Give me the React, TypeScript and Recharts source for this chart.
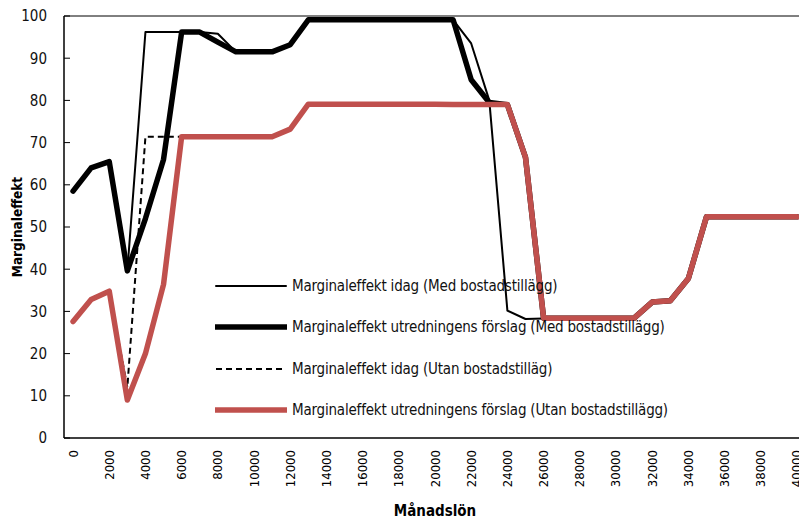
import { LineChart, Line, XAxis, YAxis, ReferenceLine, Legend, Label } from "recharts";

const FONT = "'DejaVu Sans Condensed', 'Liberation Sans Narrow', sans-serif";
const RED = "#c0504d";

const LON = [
  0, 1000, 2000, 3000, 4000, 5000, 6000, 7000, 8000, 9000, 10000, 11000, 12000, 13000,
  14000, 15000, 16000, 17000, 18000, 19000, 20000, 21000, 22000, 23000, 24000, 25000,
  26000, 27000, 28000, 29000, 30000, 31000, 32000, 33000, 34000, 35000, 36000, 37000,
  38000, 39000, 40000
];

// Marginaleffekt idag (Med bostadstillägg)
const IDAG_MED = [
  58.5, 64, 65.5, 39.6, 96.2, 96.2, 96.2, 96.2, 95.8, 91.5, 91.5, 91.5, 93.2, 99.1,
  99.1, 99.1, 99.1, 99.1, 99.1, 99.1, 99.1, 99.1, 93.5, 80, 30.2, 28.2,
  28.3, 28.4, 28.4, 28.4, 28.4, 28.4, 32.2, 32.5, 37.8, 52.4, 52.4, 52.4,
  52.4, 52.4, 52.4
];

// Marginaleffekt utredningens förslag (Med bostadstillägg)
const FORSLAG_MED = [
  58.5, 64, 65.5, 39.6, 52, 66, 96.2, 96.2, 93.8, 91.5, 91.5, 91.5, 93.2, 99.1,
  99.1, 99.1, 99.1, 99.1, 99.1, 99.1, 99.1, 99.1, 84.9, 79.5, 79, 66.5,
  28.4, 28.4, 28.4, 28.4, 28.4, 28.4, 32.2, 32.5, 37.8, 52.4, 52.4, 52.4,
  52.4, 52.4, 52.4
];

// Marginaleffekt idag (Utan bostadstillägg)
const IDAG_UTAN = [
  27.6, 32.8, 34.8, 12, 71.4, 71.4, 71.4, 71.4, 71.4, 71.4, 71.4, 71.4, 73.2, 79.1,
  79.1, 79.1, 79.1, 79.1, 79.1, 79.1, 79.1, 79, 79, 79, 79, 66.5,
  28.4, 28.4, 28.4, 28.4, 28.4, 28.4, 32.2, 32.5, 37.8, 52.4, 52.4, 52.4,
  52.4, 52.4, 52.4
];

// Marginaleffekt utredningens förslag (Utan bostadstillägg)
const FORSLAG_UTAN = [
  27.6, 32.8, 34.8, 9, 20, 36.4, 71.4, 71.4, 71.4, 71.4, 71.4, 71.4, 73.2, 79.1,
  79.1, 79.1, 79.1, 79.1, 79.1, 79.1, 79.1, 79, 79, 79, 79, 66.5,
  28.4, 28.4, 28.4, 28.4, 28.4, 28.4, 32.2, 32.5, 37.8, 52.4, 52.4, 52.4,
  52.4, 52.4, 52.4
];

const Y_TICKS = [0, 10, 20, 30, 40, 50, 60, 70, 80, 90, 100];
const X_LABEL_TICKS = [
  0, 2000, 4000, 6000, 8000, 10000, 12000, 14000, 16000, 18000, 20000,
  22000, 24000, 26000, 28000, 30000, 32000, 34000, 36000, 38000, 40000
];
const X_EDGE_TICKS = [
  -500, 500, 1500, 2500, 3500, 4500, 5500, 6500, 7500, 8500, 9500, 10500, 11500,
  12500, 13500, 14500, 15500, 16500, 17500, 18500, 19500, 20500, 21500, 22500,
  23500, 24500, 25500, 26500, 27500, 28500, 29500, 30500, 31500, 32500, 33500,
  34500, 35500, 36500, 37500, 38500, 39500, 40500
];

const SERIES = [
  { key: "idagMed", name: "Marginaleffekt idag (Med bostadstillägg)", color: "#000", width: 2, dash: undefined },
  { key: "forslagMed", name: "Marginaleffekt utredningens förslag (Med bostadstillägg)", color: "#000", width: 5.5, dash: undefined },
  { key: "idagUtan", name: "Marginaleffekt idag (Utan bostadstilläg)", color: "#000", width: 2, dash: "6 4" },
  { key: "forslagUtan", name: "Marginaleffekt utredningens förslag (Utan bostadstillägg)", color: RED, width: 5.5, dash: undefined }
];

const data = LON.map((lon, i) => ({
  lon,
  idagMed: IDAG_MED[i],
  forslagMed: FORSLAG_MED[i],
  idagUtan: IDAG_UTAN[i],
  forslagUtan: FORSLAG_UTAN[i]
}));

const EdgeTick = ({ x, y }: any) => (
  <line x1={x} x2={x} y1={y - 4} y2={y + 6} stroke="#000" strokeWidth={1} />
);

const LabelTick = ({ x, y, payload }: any) => (
  <text
    x={x}
    y={y}
    transform={`rotate(-90 ${x} ${y})`}
    textAnchor="end"
    dominantBaseline="central"
    fontSize={13}
    fontFamily={FONT}
    fill="#000"
  >
    {payload.value}
  </text>
);

const renderLegend = () => (
  <div style={{ fontFamily: FONT, fontSize: 15, letterSpacing: -0.2, color: "#111" }}>
    {SERIES.map((s) => (
      <div key={s.key} style={{ display: "flex", alignItems: "center", height: 41.5 }}>
        <svg width={72} height={10} style={{ display: "block" }}>
          <line
            x1={1}
            x2={71}
            y1={5}
            y2={5}
            stroke={s.color}
            strokeWidth={s.width}
            strokeDasharray={s.dash}
            strokeLinecap={s.dash ? "butt" : "round"}
          />
        </svg>
        <span style={{ marginLeft: 5, whiteSpace: "nowrap" }}>{s.name}</span>
      </div>
    ))}
  </div>
);

export default function App() {
  return (
    <div
      style={{
        position: "absolute",
        left: 0,
        top: 0,
        width: 799,
        height: 521,
        overflow: "hidden",
        background: "#fff"
      }}
    >
      <LineChart width={812} height={521} data={data} margin={{ top: 16, right: 6, left: 0, bottom: 0 }}>
        <XAxis
          xAxisId="edge"
          dataKey="lon"
          type="number"
          domain={[-500, 40500]}
          ticks={X_EDGE_TICKS}
          interval={0}
          height={0}
          axisLine={false}
          tickLine={false}
          tickSize={0}
          tickMargin={0}
          tick={<EdgeTick />}
        />
        <XAxis
          xAxisId="main"
          dataKey="lon"
          type="number"
          domain={[-500, 40500]}
          ticks={X_LABEL_TICKS}
          interval={0}
          height={83}
          axisLine={{ stroke: "#000", strokeWidth: 1.5 }}
          tickLine={false}
          tickSize={0}
          tickMargin={12}
          tick={<LabelTick />}
        >
          <Label
            content={({ viewBox }: any) => (
              <text
                x={viewBox.x + viewBox.width / 2}
                y={viewBox.y + 73}
                textAnchor="middle"
                dominantBaseline="central"
                fontFamily={FONT}
                fontWeight="bold"
                fontSize={15}
                fill="#000"
              >
                Månadslön
              </text>
            )}
          />
        </XAxis>
        <YAxis
          type="number"
          domain={[0, 100]}
          ticks={Y_TICKS}
          interval={0}
          width={64}
          axisLine={{ stroke: "#000", strokeWidth: 1.5 }}
          tickLine={{ stroke: "#000" }}
          tickSize={-6}
          tickMargin={23}
          tick={{ fill: "#111", fontSize: 15, fontFamily: FONT }}
        >
          <Label
            content={({ viewBox }: any) => {
              const cx = viewBox.x + 17;
              const cy = viewBox.y + viewBox.height / 2;
              return (
                <text
                  x={cx}
                  y={cy}
                  transform={`rotate(-90 ${cx} ${cy})`}
                  textAnchor="middle"
                  dominantBaseline="central"
                  fontFamily={FONT}
                  fontWeight="bold"
                  fontSize={13.5}
                  fill="#000"
                >
                  Marginaleffekt
                </text>
              );
            }}
          />
        </YAxis>
        <ReferenceLine xAxisId="main" y={100} stroke="#000" strokeWidth={1} />
        {SERIES.map((s) => (
          <Line
            key={s.key}
            xAxisId="main"
            type="linear"
            dataKey={s.key}
            name={s.name}
            stroke={s.color}
            strokeWidth={s.width}
            strokeDasharray={s.dash}
            strokeLinejoin="round"
            strokeLinecap={s.dash ? "butt" : "round"}
            dot={false}
            activeDot={false}
            isAnimationActive={false}
          />
        ))}
        <Legend
          layout="vertical"
          verticalAlign="middle"
          align="center"
          wrapperStyle={{ left: 215, top: 265, width: 560 }}
          content={renderLegend}
        />
      </LineChart>
    </div>
  );
}
